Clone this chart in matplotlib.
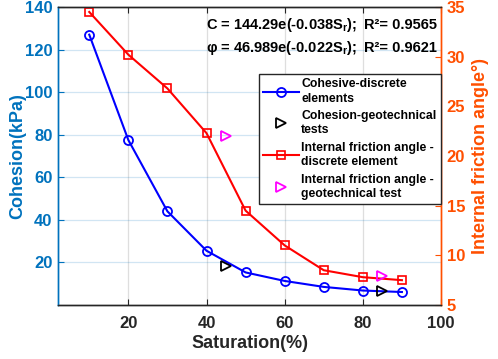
import matplotlib
matplotlib.use("Agg")
import matplotlib.pyplot as plt

plt.rcParams['font.family'] = ['Liberation Sans', 'DejaVu Sans']
plt.rcParams['font.weight'] = 'bold'
plt.rcParams['mathtext.fontset'] = 'custom'
plt.rcParams['mathtext.rm'] = 'Liberation Sans:bold'
plt.rcParams['mathtext.bf'] = 'Liberation Sans:bold'

# Data
saturation = [10, 20, 30, 40, 50, 60, 70, 80, 90]
cohesion_dem = [127, 77.5, 44, 25.5, 15.3, 11.3, 8.5, 6.8, 6.1]
test_saturation = [45, 85]
cohesion_test = [18.5, 6.5]
friction_dem = [34.5, 30.2, 26.8, 22.3, 14.5, 11.0, 8.5, 7.8, 7.5]
friction_test = [22.0, 7.9]
x_ticks = [20, 40, 60, 80, 100]
left_ticks = [20, 40, 60, 80, 100, 120, 140]
right_ticks = [5, 10, 15, 20, 25, 30, 35]

BLUE = '#0072BD'
ORANGE = '#FF4F00'
DARK = '#262626'

fig = plt.figure(figsize=(4.98, 3.59), dpi=100)
ax = fig.add_axes([58/498, 1-305/359, (441-58)/498, (305-7)/359])
ax2 = ax.twinx()

ax.set_xlim(2, 100)
ax.set_ylim(0, 140)
ax2.set_ylim(5, 35)

# grid
for xv in x_ticks[:-1]:
    ax.axvline(xv, color=DARK, alpha=0.15, lw=0.9, zorder=0)
for yv in left_ticks[:-1]:
    ax.axhline(yv, color=BLUE, alpha=0.18, lw=0.9, zorder=0)

l1, = ax.plot(saturation, cohesion_dem, color='#0000FF', lw=1.5, marker='o',
              ms=6.5, mfc='none', mew=1.3)
l2, = ax.plot(test_saturation, cohesion_test, ls='none', color='black', marker='>',
              ms=7, mfc='none', mew=1.3)
l3, = ax2.plot(saturation, friction_dem, color='#FF0000', lw=1.5, marker='s',
               ms=5.5, mfc='none', mew=1.2)
l4, = ax2.plot(test_saturation, friction_test, ls='none', color='#FF00FF', marker='>',
               ms=7, mfc='none', mew=1.3)

ax.set_xticks(x_ticks)
ax.set_yticks(left_ticks)
ax2.set_yticks(right_ticks)

ax.tick_params(axis='x', direction='in', length=4, colors=DARK, labelsize=12,
               top=True, pad=8)
ax.tick_params(axis='y', direction='in', length=4, colors=BLUE, labelsize=12, pad=4)
ax2.tick_params(axis='y', direction='in', length=4, colors=ORANGE, labelsize=12, pad=4)
for lab in ax.get_xticklabels() + ax.get_yticklabels() + ax2.get_yticklabels():
    lab.set_fontweight('bold')

for a in (ax, ax2):
    a.spines['left'].set_color(BLUE)
    a.spines['right'].set_color(ORANGE)
    a.spines['top'].set_color(DARK)
    a.spines['bottom'].set_color(DARK)
    for s in a.spines.values():
        s.set_linewidth(1.0)

ax.set_xlabel('Saturation(%)', fontsize=13, fontweight='bold', color=DARK, labelpad=3)
ax.set_ylabel('Cohesion(kPa)', fontsize=13, fontweight='bold', color=BLUE, labelpad=-1)
ax2.set_ylabel('Internal friction angle°)', fontsize=13, fontweight='bold',
               color=ORANGE, labelpad=5)

ax2.text(0.386, 0.94, r'C = 144.29e(-0.038S$_{\mathrm{r}}$);', transform=ax.transAxes,
         fontsize=10.5, fontweight='bold', va='center', ha='left', color='black')
ax2.text(0.799, 0.94, 'R²= 0.9565', transform=ax.transAxes,
         fontsize=10.5, fontweight='bold', va='center', ha='left', color='black')
ax2.text(0.386, 0.862, r'φ = 46.989e(-0.022S$_{\mathrm{r}}$);', transform=ax.transAxes,
         fontsize=10.5, fontweight='bold', va='center', ha='left', color='black')
ax2.text(0.799, 0.862, 'R²= 0.9621', transform=ax.transAxes,
         fontsize=10.5, fontweight='bold', va='center', ha='left', color='black')

labels = ['Cohesive-discrete\nelements', 'Cohesion-geotechnical\ntests',
          'Internal friction angle -\ndiscrete element',
          'Internal friction angle -\ngeotechnical test']
leg = ax2.legend([l1, l2, l3, l4], labels, loc='upper left',
                 bbox_to_anchor=(0.525, 0.775), fontsize=8.8, frameon=True,
                 fancybox=False, edgecolor=DARK, framealpha=1, handlelength=2.9,
                 handletextpad=0.2, labelspacing=0.45, borderpad=0.35,
                 borderaxespad=0)
leg.get_frame().set_linewidth(1.0)
for t in leg.get_texts():
    t.set_fontweight('bold')
    t.set_linespacing(1.25)

fig.savefig('out.png', dpi=100)
